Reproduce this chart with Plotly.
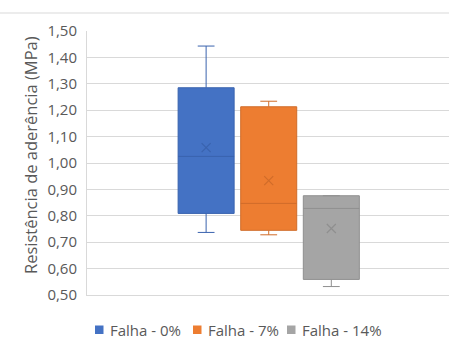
import plotly.graph_objects as go

# Summary statistics of bond strength (MPa) per failure group
series = ["Falha - 0%", "Falha - 7%", "Falha - 14%"]
lower_whisker = [0.737, 0.728, 0.532]
q1 = [0.809, 0.745, 0.559]
median = [1.025, 0.847, 0.828]
q3 = [1.285, 1.213, 0.876]
upper_whisker = [1.443, 1.234, 0.876]
mean = [1.058, 0.933, 0.752]

fill_colors = ["#4472C4", "#ED7D31", "#A5A5A5"]
line_colors = ["#3A63AE", "#D06C29", "#8F8F8F"]

y_ticks = [0.5, 0.6, 0.7, 0.8, 0.9, 1.0, 1.1, 1.2, 1.3, 1.4, 1.5]

FONT = "Open Sans"
TEXT = "#595959"
GRID = "#D9D9D9"

# Pixel geometry of the plotting area
PLOT_L, PLOT_R, PLOT_T, PLOT_B = 87, 449, 31, 295


def px_x(p):
    return (p - PLOT_L) / (PLOT_R - PLOT_L)


def px_y(p):
    return (PLOT_B - p) / (PLOT_B - PLOT_T)


fig = go.Figure()

for i, name in enumerate(series):
    fig.add_trace(go.Box(
        name=name,
        x=[i],
        q1=[q1[i]],
        median=[median[i]],
        q3=[q3[i]],
        lowerfence=[lower_whisker[i]],
        upperfence=[upper_whisker[i]],
        width=0.895,
        whiskerwidth=0.3,
        fillcolor=fill_colors[i],
        line=dict(color=line_colors[i], width=1),
        showlegend=False,
        hoverinfo="skip",
    ))

# Mean markers (×) for each group
for i, name in enumerate(series):
    fig.add_trace(go.Scatter(
        x=[i],
        y=[mean[i]],
        mode="markers",
        marker=dict(symbol="x-thin-open", size=9, color=line_colors[i],
                    line=dict(color=line_colors[i], width=1.2)),
        showlegend=False,
        hoverinfo="skip",
    ))

# Compact legend row below the plot: colour square + label per series
legend_square_left = [95, 193, 287]
legend_y_top, legend_y_bot = 325.5, 334
shapes = [dict(
    type="rect",
    xref="paper", yref="paper",
    x0=px_x(-77), y0=px_y(700), x1=px_x(470), y1=px_y(13),
    line=dict(color=GRID, width=1),
    fillcolor="rgba(0,0,0,0)",
    layer="below",
)]
annotations = [dict(
    text="Resistência de aderência (MPa)",
    xref="paper", yref="paper",
    x=px_x(30), y=px_y(155),
    xanchor="center", yanchor="middle",
    textangle=-90,
    showarrow=False,
    font=dict(family=FONT, size=16.5, color=TEXT),
)]
for i, name in enumerate(series):
    left = legend_square_left[i]
    shapes.append(dict(
        type="rect",
        xref="paper", yref="paper",
        x0=px_x(left), x1=px_x(left + 8.5),
        y0=px_y(legend_y_bot), y1=px_y(legend_y_top),
        line=dict(width=0),
        fillcolor=fill_colors[i],
    ))
    annotations.append(dict(
        text=name,
        xref="paper", yref="paper",
        x=px_x(left + 13), y=px_y((legend_y_top + legend_y_bot) / 2),
        xanchor="left", yanchor="middle",
        showarrow=False,
        font=dict(family=FONT, size=15, color=TEXT),
    ))

fig.update_layout(
    width=449,
    height=345,
    margin=dict(l=PLOT_L, r=449 - PLOT_R, t=PLOT_T, b=345 - PLOT_B),
    paper_bgcolor="white",
    plot_bgcolor="white",
    separators=", ",
    showlegend=False,
    font=dict(family=FONT, color=TEXT, size=15),
    xaxis=dict(
        range=[-1.903, 3.88],
        showticklabels=False,
        showgrid=False,
        zeroline=False,
        showline=True,
        linecolor=GRID,
        linewidth=1,
        ticks="",
        fixedrange=True,
    ),
    yaxis=dict(
        range=[0.5, 1.5],
        tickvals=y_ticks,
        tickformat=".2f",
        showgrid=True,
        gridcolor=GRID,
        gridwidth=1,
        zeroline=False,
        showline=True,
        linecolor=GRID,
        linewidth=1,
        ticks="",
        ticklabelstandoff=6,
        tickfont=dict(family=FONT, size=15, color=TEXT),
    ),
    annotations=annotations,
    shapes=shapes,
)

fig.write_html("out.html")
